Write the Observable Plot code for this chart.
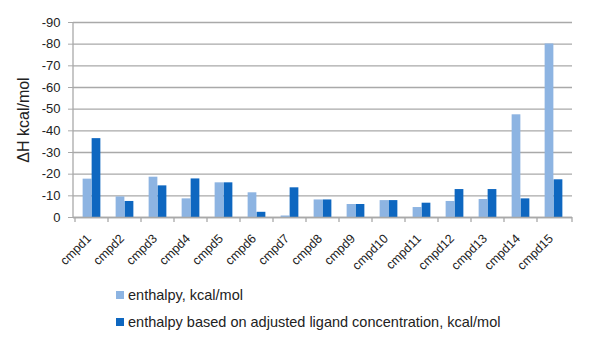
<!DOCTYPE html>
<html>
<head>
<meta charset="utf-8">
<script src="https://cdn.jsdelivr.net/npm/d3@7"></script>
<script src="https://cdn.jsdelivr.net/npm/@observablehq/plot@0.6"></script>
<style>
  body { margin: 0; background: #fff; font-family: "Liberation Sans", Arial, sans-serif; }
  #chart { position: relative; width: 590px; height: 342px; }
  #chart svg { position: absolute; left: 0; top: 0; }
  g[aria-label="y-axis label"] text { font-size: 16px; }
  .legend { position: absolute; left: 116px; font-size: 14.5px; color: #222; display: flex; align-items: center; }
  .legend span.sw { display: inline-block; width: 8px; height: 8px; margin-right: 4px; }
</style>
</head>
<body>
<div id="chart"></div>
<script>
const categories = ["cmpd1","cmpd2","cmpd3","cmpd4","cmpd5","cmpd6","cmpd7","cmpd8","cmpd9","cmpd10","cmpd11","cmpd12","cmpd13","cmpd14","cmpd15"];
const enthalpy = [-17.7, -9.5, -18.6, -8.6, -16.0, -11.4, -0.7, -8.1, -6.0, -7.8, -4.6, -7.4, -8.3, -47.4, -80.1];
const adjusted = [-36.4, -7.4, -14.6, -17.8, -16.0, -2.4, -13.7, -8.1, -6.0, -7.8, -6.6, -12.9, -12.9, -8.6, -17.4];
const yTicks = [-90, -80, -70, -60, -50, -40, -30, -20, -10, 0];
const seriesNames = ["enthalpy, kcal/mol", "enthalpy based on adjusted ligand concentration, kcal/mol"];
const colors = ["#8db4e2", "#0e67c0"];

const rowsA = categories.map((c, i) => ({cat: c, v: enthalpy[i]}));
const rowsB = categories.map((c, i) => ({cat: c, v: adjusted[i]}));

const W = 590, H = 282, mL = 73, mR = 18, mT = 22, mB = 65;
const step = (W - mL - mR) / categories.length;
const barW = 9;
const off = (step - 2 * barW) / 2;

const grey = "#a9a9a9";

const axisLines = (index, scales, values, dims) => {
  const g = d3.create("svg:g");
  const x0 = dims.marginLeft, x1 = dims.width - dims.marginRight;
  const yb = dims.height - dims.marginBottom, yt = dims.marginTop;
  g.append("line").attr("x1", x0).attr("x2", x0).attr("y1", yt).attr("y2", yb + 0.5)
    .attr("stroke", grey).attr("stroke-width", 1.3);
  const xs = categories.map(c => scales.x(c)).concat([x1]);
  for (const x of xs) {
    g.append("line").attr("x1", x).attr("x2", x).attr("y1", yb).attr("y2", yb + 5)
      .attr("stroke", grey).attr("stroke-width", 1.3);
  }
  return g.node();
};

const chart = Plot.plot({
  width: W, height: H,
  marginLeft: mL, marginRight: mR, marginTop: mT, marginBottom: mB,
  style: {fontFamily: "Liberation Sans, Arial, sans-serif", fontSize: "13px", color: "#222"},
  x: {type: "band", domain: categories, padding: 0},
  y: {domain: [0, -90]},
  marks: [
    Plot.gridY(yTicks, {stroke: grey, strokeOpacity: 1, strokeWidth: 1.3}),
    Plot.barY(rowsA, {x: "cat", y: "v", fill: colors[0], insetLeft: off, insetRight: off + barW}),
    Plot.barY(rowsB, {x: "cat", y: "v", fill: colors[1], insetLeft: off + barW, insetRight: off}),
    Plot.ruleY([0], {stroke: grey, strokeWidth: 1.3}),
    axisLines,
    Plot.axisY({ticks: yTicks, tickFormat: d => String(d), tickSize: 5, tickPadding: 8, stroke: grey,
      label: "ΔH kcal/mol", labelAnchor: "center", labelOffset: 56, labelArrow: "none", fontSize: 13}),
    Plot.axisX({tickRotate: -45, tickSize: 0, tickPadding: 19, dx: -3, label: null, fontSize: 12.5})
  ]
});
const root = document.getElementById("chart");
root.appendChild(chart);

seriesNames.forEach((name, i) => {
  const d = document.createElement("div");
  d.className = "legend";
  d.style.top = (287 + i * 27) + "px";
  d.innerHTML = `<span class="sw" style="background:${colors[i]}"></span><span></span>`;
  d.lastChild.textContent = name;
  root.appendChild(d);
});
</script>
</body>
</html>
